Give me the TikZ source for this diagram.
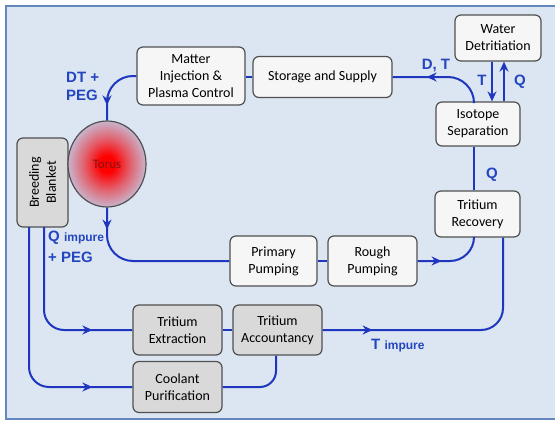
\documentclass[tikz,border=0pt]{standalone}
\usepackage{fontspec}
\setmainfont{Carlito}
\newfontfamily\lblfont{Liberation Sans}
\usetikzlibrary{arrows.meta,decorations.markings,calc,shapes.geometric}
\definecolor{bgc}{RGB}{220,230,242}
\definecolor{frc}{RGB}{100,135,190}
\definecolor{flc}{RGB}{30,55,190}
\definecolor{lbc}{RGB}{35,70,190}
\definecolor{bxd}{RGB}{80,80,80}
\definecolor{wfill}{RGB}{246,246,246}
\definecolor{gfill}{RGB}{217,217,217}
\definecolor{lav}{RGB}{196,196,222}
\definecolor{torc}{RGB}{130,20,20}
\pgfdeclareradialshading{torshade}{\pgfpoint{0bp}{0bp}}{color(0bp)=(red); color(5bp)=(red); color(15bp)=(red!50!lav); color(27bp)=(lav); color(50bp)=(lav)}
\begin{document}
\begin{tikzpicture}[x=1pt,y=-1pt,
 box/.style={draw=bxd, line width=1.2pt, rounded corners=6pt, fill=wfill, align=center, font=\fontsize{14}{17}\selectfont, inner sep=0pt},
 gbox/.style={box, fill=gfill},
 flow/.style={draw=flc, line width=2pt},
 tipflow/.style={flow, -{Stealth[length=10pt,width=9pt]}},
 marrow/.style={postaction={decorate}, decoration={markings, mark=at position #1 with {\arrow{Stealth[length=10pt,width=9pt]}}}},
 lbl/.style={text=lbc, font=\lblfont\bfseries\fontsize{15}{18}\selectfont, align=left, inner sep=0pt}
]
\useasboundingbox (0,0) rectangle (555,423);
\fill[bgc] (6,6) rectangle (570,419);
\draw[frc, line width=2pt] (570,6) -- (6,6) -- (6,419) -- (570,419);

% nodes
\node[box, minimum width=108pt, minimum height=58pt] (mat) at (191,76) {Matter\\Injection \&\\Plasma Control};
\node[box, minimum width=139pt, minimum height=41pt] (stor) at (322.5,77) {Storage and Supply};
\node[box, minimum width=86pt, minimum height=46pt] (wat) at (498,38) {Water\\Detritiation};
\node[box, minimum width=84pt, minimum height=44pt] (iso) at (478,124) {Isotope\\Separation};
\node[box, minimum width=85pt, minimum height=46pt] (rec) at (477.5,214) {Tritium\\Recovery};
\node[box, minimum width=87pt, minimum height=50pt] (prim) at (273.5,261) {Primary\\Pumping};
\node[box, minimum width=89pt, minimum height=50pt] (rough) at (372.5,261) {Rough\\Pumping};
\node[gbox, minimum width=89pt, minimum height=50pt] (ext) at (177.5,330) {Tritium\\Extraction};
\node[gbox, minimum width=89pt, minimum height=50pt] (acc) at (277.5,330) {Tritium\\Accountancy};
\node[gbox, minimum width=89pt, minimum height=51pt] (cool) at (177.5,387) {Coolant\\Purification};
\node[gbox, rotate=90, minimum width=89pt, minimum height=51pt] (bb) at (42.5,182.5) {Breeding\\Blanket};
\node[ellipse, draw=bxd, line width=1.2pt, minimum width=78pt, minimum height=86pt, inner sep=0pt,
      shading=torshade, font=\fontsize{13}{15}\selectfont, text=torc] (tor) at (107,164) {Torus};

% helper coordinates
\coordinate (b1) at (29,227);
\coordinate (b2) at (44,227);
\coordinate (isoN) at ($(iso.north)+(-4,0)$);
\coordinate (isoS) at ($(iso.south)+(-4,0)$);
\coordinate (recN) at ($(rec.north)+(-3.5,0)$);
\coordinate (recS) at ($(rec.south)+(-3.5,0)$);
\coordinate (recS2) at ($(rec.south)+(25.5,0)$);
\coordinate (watT) at ($(wat.south)+(-6,0)$);
\coordinate (isoT) at ($(iso.north)+(14,0)$);
\coordinate (watQ) at ($(wat.south)+(6,0)$);
\coordinate (isoQ) at ($(iso.north)+(26,0)$);
\coordinate (accS) at ($(acc.south)+(-1.5,0)$);

% connectors
\draw[flow, rounded corners=26pt, marrow=-15pt] (mat.west) -| (tor.north);
\draw[flow, rounded corners=26pt, marrow=22pt] (tor.south) |- (prim.west);
\draw[flow] (prim.east) -- (rough.west);
\draw[flow, rounded corners=24pt, marrow=24pt] (rough.east) -| (recS);
\draw[flow] (recN) -- (isoS);
\draw[flow, rounded corners=26pt, marrow=-34pt] (isoN) |- (stor.east);
\draw[flow] (stor.west) -- (mat.east |- stor.west);
\draw[tipflow] (watT) -- (isoT);
\draw[tipflow] (isoQ) -- (watQ);
\draw[flow, rounded corners=22pt, marrow=50pt] (acc.east) -| (recS2);
\draw[flow] (ext.east) -- (acc.west);
\draw[flow, rounded corners=16pt] (cool.east) -| (accS);
\draw[flow, rounded corners=20pt, marrow=-40pt] (b2) |- (ext.west);
\draw[flow, rounded corners=20pt, marrow=-40pt] (b1) |- (cool.west);

% labels
\node[lbl, anchor=west] (l1) at (66,86) {DT +\\PEG};
\node[lbl, anchor=west] (l2) at (48,238) {Q {\fontsize{12}{14}\selectfont impure}};
\node[lbl, anchor=west] (l3) at (48,257) {+ PEG};
\node[lbl] (l4) at (436,66) {D, T};
\node[lbl] (l5) at (482,80) {T};
\node[lbl] (l6) at (520,82) {Q};
\node[lbl] (l7) at (492,175) {Q};
\node[lbl, anchor=west] (l8) at (371,346) {T {\fontsize{12}{14}\selectfont impure}};
\end{tikzpicture}
\end{document}
